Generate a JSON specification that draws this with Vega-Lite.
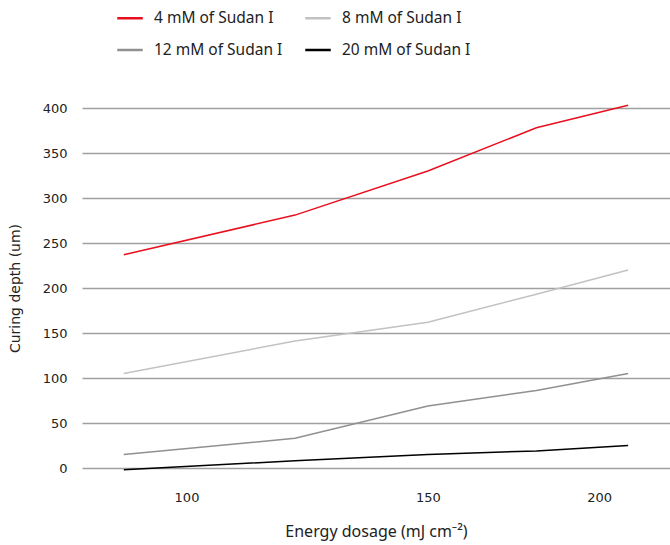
{
  "$schema": "https://vega.github.io/schema/vega-lite/v6.json",
  "width": 588,
  "height": 360,
  "autosize": {"type": "none"},
  "padding": {"left": 82, "top": 108, "right": 0, "bottom": 77},
  "config": {"view": {"stroke": null}, "font": "DejaVu Sans"},
  "data": {
    "values": [
      {"series": "4 mM of Sudan I", "dose": 90, "depth": 237},
      {"series": "4 mM of Sudan I", "dose": 120, "depth": 281},
      {"series": "4 mM of Sudan I", "dose": 150, "depth": 330},
      {"series": "4 mM of Sudan I", "dose": 180, "depth": 378},
      {"series": "4 mM of Sudan I", "dose": 210, "depth": 403},
      {"series": "8 mM of Sudan I", "dose": 90, "depth": 105},
      {"series": "8 mM of Sudan I", "dose": 120, "depth": 141},
      {"series": "8 mM of Sudan I", "dose": 150, "depth": 162},
      {"series": "8 mM of Sudan I", "dose": 180, "depth": 193},
      {"series": "8 mM of Sudan I", "dose": 210, "depth": 220},
      {"series": "12 mM of Sudan I", "dose": 90, "depth": 15},
      {"series": "12 mM of Sudan I", "dose": 120, "depth": 33},
      {"series": "12 mM of Sudan I", "dose": 150, "depth": 69},
      {"series": "12 mM of Sudan I", "dose": 180, "depth": 86},
      {"series": "12 mM of Sudan I", "dose": 210, "depth": 105},
      {"series": "20 mM of Sudan I", "dose": 90, "depth": -2},
      {"series": "20 mM of Sudan I", "dose": 120, "depth": 8},
      {"series": "20 mM of Sudan I", "dose": 150, "depth": 15},
      {"series": "20 mM of Sudan I", "dose": 180, "depth": 19},
      {"series": "20 mM of Sudan I", "dose": 210, "depth": 25}
    ]
  },
  "mark": {"type": "line", "strokeWidth": 1.5, "clip": false},
  "encoding": {
    "x": {
      "field": "dose",
      "type": "quantitative",
      "scale": {"type": "log", "domain": [83.9, 225.3], "nice": false},
      "axis": {
        "values": [100, 150, 200],
        "format": "d",
        "grid": false,
        "ticks": false,
        "domain": false,
        "labelPadding": 23,
        "labelFontSize": 13,
        "labelColor": "#222222",
        "title": "Energy dosage (mJ cm⁻²)",
        "titleFont": "Noto Sans",
        "titleFontWeight": "normal",
        "titleFontSize": 16,
        "titleColor": "#222222",
        "titlePadding": 19
      }
    },
    "y": {
      "field": "depth",
      "type": "quantitative",
      "scale": {"domain": [0, 400], "nice": false},
      "axis": {
        "values": [0, 50, 100, 150, 200, 250, 300, 350, 400],
        "grid": true,
        "gridColor": "#a0a0a0",
        "gridWidth": 1.3,
        "ticks": false,
        "domain": false,
        "labelPadding": 15,
        "labelFontSize": 13,
        "labelColor": "#222222",
        "title": "Curing depth (um)",
        "titleFontWeight": "normal",
        "titleFontSize": 14,
        "titleColor": "#222222",
        "titlePadding": 20
      }
    },
    "color": {
      "field": "series",
      "type": "nominal",
      "sort": null,
      "scale": {
        "domain": ["4 mM of Sudan I", "8 mM of Sudan I", "12 mM of Sudan I", "20 mM of Sudan I"],
        "range": ["#e8101f", "#c2c2c2", "#909090", "#000000"]
      },
      "legend": {
        "orient": "none",
        "direction": "horizontal",
        "legendX": 34,
        "legendY": -104,
        "title": null,
        "columns": 2,
        "symbolType": "stroke",
        "symbolSize": 650,
        "symbolStrokeWidth": 2.5,
        "labelFont": "Noto Sans",
        "labelFontSize": 15.5,
        "labelColor": "#222222",
        "labelOffset": 10,
        "rowPadding": 9,
        "columnPadding": 17
      }
    }
  }
}
